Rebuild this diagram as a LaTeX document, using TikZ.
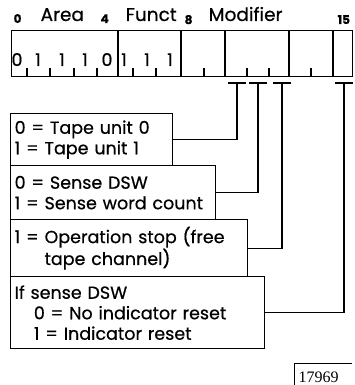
\documentclass[tikz,border=0pt]{standalone}
\usepackage{fontspec}
\setmainfont{Poppins}[FakeBold=0.6]
\newfontfamily\numfont{Liberation Serif}
\begin{document}
\begin{tikzpicture}[x=1pt,y=-1pt,line width=1.3pt,
  hdr/.style={anchor=base west,inner sep=0pt,font=\fontsize{18.5}{18}\selectfont},
  bitno/.style={anchor=base west,inner sep=0pt,font=\fontsize{12}{12}\selectfont\bfseries},
  digit/.style={anchor=base,inner sep=0pt,font=\fontsize{17.5}{18}\selectfont},
  infobox/.style={draw,anchor=north west,inner xsep=4pt,inner ysep=0pt,align=left,
    font=\fontsize{17.5}{20.5}\selectfont},
  tick/.style={line width=1.1pt},
  pointer/.style={line width=1.3pt}]
\useasboundingbox (0,0) rectangle (355,385);
% header labels
\node[bitno] (n0) at (13,23) {0};
\node[hdr] (hArea) at (40,21) {Area};
\node[bitno] (n4) at (100,23) {4};
\node[hdr] (hFunct) at (125,21) {Funct};
\node[bitno] (n8) at (184,24) {8};
\node[hdr] (hMod) at (208,21) {Modifier};
\node[bitno] (n15) at (337,24) {15};
% register
\node[draw,anchor=north west,minimum width=341pt,minimum height=46pt,inner sep=0pt] (reg) at (11,30) {};
\foreach \x in {118,181,225,289,333} \draw (\x,30) -- (\x,76);
\foreach \x in {27,50,74,97,133,156,204,247,269,311} \draw[tick] (\x,76) -- (\x,68);
% digits
\node[digit] (d0) at (17,66) {0};
\node[digit] (d1) at (38,66) {1};
\node[digit] (d2) at (62,66) {1};
\node[digit] (d3) at (85,66) {1};
\node[digit] (d4) at (107,66) {0};
\node[digit] (d5) at (124,66) {1};
\node[digit] (d6) at (147,66) {1};
\node[digit] (d7) at (170,66) {1};
% boxes
\node[infobox,text width=154pt,minimum height=52pt] (b1) at (10,113)
  {0 = Tape unit 0\\1 = Tape unit 1};
\node[infobox,text width=197pt,minimum height=54pt] (b2) at (10,165)
  {0 = Sense DSW\\1 = Sense word count};
\node[infobox,text width=229pt,minimum height=57pt] (b3) at (10,219)
  {1 = Operation stop (free\\\phantom{1 = }tape channel)};
\node[infobox,text width=246pt,minimum height=72pt] (b4) at (10,276)
  {If sense DSW\\\hspace*{1.1em}0 = No indicator reset\\\hspace*{1.1em}1 = Indicator reset};
% pointers
\coordinate (t1) at (237,83);
\coordinate (t2) at (258,83);
\coordinate (t3) at (282,83);
\coordinate (t4) at (344,83);
\foreach \t in {t1,t2,t3,t4} \draw[pointer] ([xshift=-9pt]\t) -- ([xshift=9pt]\t);
\draw[pointer] (t1) |- (b1.east);
\draw[pointer] (t2) |- (b2.east);
\draw[pointer] (t3) |- (b3.east);
\draw[pointer] (t4) |- (b4.east);
% figure number
\node[anchor=base west,inner sep=0pt,font=\numfont\fontsize{16}{16}\selectfont] (fig) at (298,382) {17969};
\draw[line width=0.8pt] (294,385) -- (294,363) -- (352,363);
\end{tikzpicture}
\end{document}
